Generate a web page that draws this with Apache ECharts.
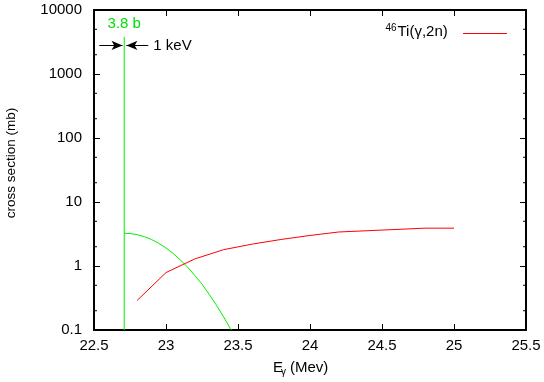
<!DOCTYPE html>
<html>
<head>
<meta charset="utf-8">
<script src="https://cdn.jsdelivr.net/npm/echarts@6/dist/echarts.min.js"></script>
<style>
  html, body { margin: 0; padding: 0; background: #fff; }
  #main { width: 544px; height: 382px; }
</style>
</head>
<body>
<div id="main"></div>
<script>
// 46Ti(g,2n) cross section
var redX = [22.8, 23.0, 23.2, 23.4, 23.6, 23.8, 24.0, 24.2, 24.8, 25.0];
var redY = [0.29, 0.79, 1.29, 1.8, 2.2, 2.6, 3.0, 3.4, 3.9, 3.9];

// green resonance tail
var greenX = [22.71, 22.75, 22.8, 22.85, 22.9, 22.95, 23.0, 23.05, 23.1, 23.15, 23.2, 23.25, 23.3, 23.35, 23.4, 23.453];
var greenY = [3.25, 3.22, 3.09, 2.87, 2.59, 2.26, 1.91, 1.57, 1.24, 0.96, 0.71, 0.52, 0.36, 0.245, 0.16, 0.1];

// narrow peak: 3.8 b, 1 keV wide
var peakX = 22.71;
var peakTop = 3800;
var arrowY = 2800;
var arrowLeft = [22.537, 22.698];
var arrowRight = [22.877, 22.725];

var xMin = 22.5, xMax = 25.5, xStep = 0.5;
var yMin = 0.1, yMax = 10000;
var yMinor = [0.2, 0.5, 2, 5, 20, 50, 200, 500, 2000, 5000];

var FONT = 'Liberation Sans, Arial, Helvetica, sans-serif';

var chartDom = document.getElementById('main');
var myChart = echarts.init(chartDom);

function pairs(xs, ys) {
  return xs.map(function (x, i) { return [x, ys[i]]; });
}

var axisLine = { lineStyle: { color: '#000', width: 2 } };

var option = {
  animation: false,
  backgroundColor: '#fff',
  grid: { left: 94, right: 18, top: 10, bottom: 52 },
  xAxis: [
    {
      type: 'value', min: xMin, max: xMax, interval: xStep,
      axisLine: axisLine,
      axisTick: { inside: true, length: 6, lineStyle: { color: '#000', width: 1 } },
      axisLabel: { color: '#000', fontSize: 15, fontFamily: FONT, margin: 8 },
      splitLine: { show: false }
    },
    {
      type: 'value', position: 'top', min: xMin, max: xMax, interval: xStep,
      axisLine: axisLine,
      axisTick: { inside: true, length: 6, lineStyle: { color: '#000', width: 1 } },
      axisLabel: { show: false },
      splitLine: { show: false }
    }
  ],
  yAxis: [
    {
      type: 'log', logBase: 10, min: yMin, max: yMax,
      axisLine: axisLine,
      axisTick: { inside: true, length: 6, lineStyle: { color: '#000', width: 1 } },
      axisLabel: {
        color: '#000', fontSize: 15, fontFamily: FONT, margin: 12,
        formatter: function (v) { return String(+(+v).toPrecision(4)); }
      },
      splitLine: { show: false }
    },
    {
      type: 'log', logBase: 10, min: yMin, max: yMax, position: 'right',
      axisLine: axisLine,
      axisTick: { inside: true, length: 6, lineStyle: { color: '#000', width: 1 } },
      axisLabel: { show: false },
      splitLine: { show: false }
    }
  ],
  series: [
    {
      name: 'minor',
      type: 'custom',
      silent: true,
      data: yMinor.map(function (v) { return [xMin, v]; }),
      renderItem: function (params, api) {
        var v = api.value(1);
        var l = api.coord([xMin, v]);
        var r = api.coord([xMax, v]);
        return {
          type: 'group',
          children: [
            { type: 'line', shape: { x1: l[0], y1: l[1], x2: l[0] + 3, y2: l[1] }, style: { stroke: '#000', lineWidth: 1 } },
            { type: 'line', shape: { x1: r[0] - 3, y1: r[1], x2: r[0], y2: r[1] }, style: { stroke: '#000', lineWidth: 1 } }
          ]
        };
      }
    },
    {
      name: 'peak',
      type: 'line',
      data: [[peakX, yMin], [peakX, peakTop]],
      showSymbol: false,
      lineStyle: { color: '#00ee00', width: 1 },
      silent: true,
      markLine: {
        silent: true,
        symbol: ['none', 'arrow'],
        symbolSize: [7, 11],
        label: { show: false },
        lineStyle: { color: '#000', width: 1, type: 'solid' },
        data: [
          [{ coord: [arrowLeft[0], arrowY] }, { coord: [arrowLeft[1], arrowY] }],
          [{ coord: [arrowRight[0], arrowY] }, { coord: [arrowRight[1], arrowY] }]
        ]
      }
    },
    {
      name: 'tail',
      type: 'line',
      data: pairs(greenX, greenY),
      showSymbol: false,
      smooth: false,
      lineStyle: { color: '#00ee00', width: 1 },
      silent: true
    },
    {
      name: '46Ti(γ,2n)',
      type: 'line',
      data: pairs(redX, redY),
      showSymbol: false,
      lineStyle: { color: '#ff0000', width: 1 },
      silent: true
    }
  ]
};

myChart.setOption(option);

// texts placed from data coordinates
var topPt = myChart.convertToPixel({ xAxisIndex: 0, yAxisIndex: 0 }, [peakX, peakTop]);
var arPt = myChart.convertToPixel({ xAxisIndex: 0, yAxisIndex: 0 }, [arrowRight[0], arrowY]);

myChart.setOption({
  graphic: [
    {
      type: 'text', x: topPt[0], y: topPt[1] - 13,
      style: { text: '3.8 b', fill: '#00dd00', font: '15px ' + FONT, align: 'center', verticalAlign: 'middle' }
    },
    {
      type: 'text', x: arPt[0] + 5, y: arPt[1],
      style: { text: '1 keV', fill: '#000', font: '15px ' + FONT, align: 'left', verticalAlign: 'middle' }
    },
    // legend
    {
      type: 'text', x: 385.5, y: 28,
      style: { text: '46', fill: '#000', font: '10px ' + FONT, align: 'left', verticalAlign: 'middle' }
    },
    {
      type: 'text', x: 397.5, y: 32,
      style: { text: 'Ti(γ,2n)', fill: '#000', font: '15px ' + FONT, align: 'left', verticalAlign: 'middle' }
    },
    {
      type: 'line', shape: { x1: 463, y1: 33.5, x2: 507, y2: 33.5 },
      style: { stroke: '#ff0000', lineWidth: 1 }
    },
    // x axis title
    {
      type: 'text', x: 273, y: 367.5,
      style: { text: 'E', fill: '#000', font: '15px ' + FONT, align: 'left', verticalAlign: 'middle' }
    },
    {
      type: 'text', x: 281, y: 372,
      style: { text: 'γ', fill: '#000', font: '10px ' + FONT, align: 'left', verticalAlign: 'middle' }
    },
    {
      type: 'text', x: 290, y: 367.5,
      style: { text: '(Mev)', fill: '#000', font: '15px ' + FONT, align: 'left', verticalAlign: 'middle' }
    },
    // y axis title
    {
      type: 'text', x: 11, y: 163, rotation: Math.PI / 2,
      style: { text: 'cross section (mb)', fill: '#000', font: '13.5px ' + FONT, align: 'center', verticalAlign: 'middle' }
    }
  ]
});
</script>
</body>
</html>
